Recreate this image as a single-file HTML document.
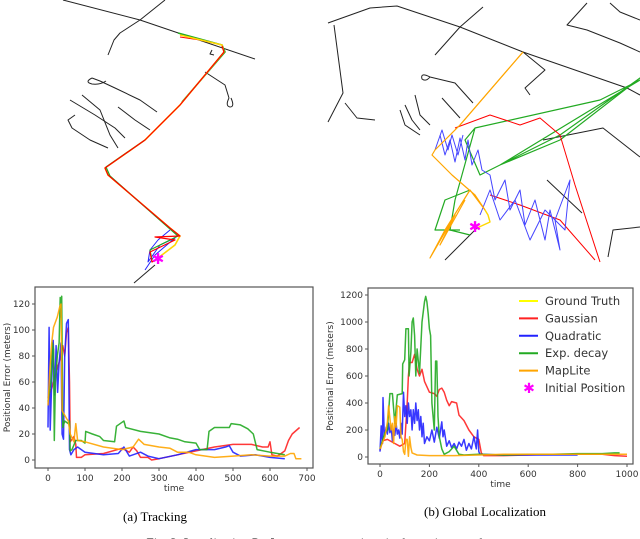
<!DOCTYPE html>
<html><head><meta charset="utf-8"><style>
html,body{margin:0;padding:0;background:#fff;width:640px;height:539px;overflow:hidden}
svg{display:block}
.tk{font-family:"DejaVu Sans","Liberation Sans",sans-serif;font-size:9px;fill:#333}
.cap{font-family:"Liberation Serif",serif;font-size:13px;fill:#000}
</style></head><body>
<svg id="fig" width="640" height="539" viewBox="0 0 640 539" xmlns="http://www.w3.org/2000/svg">
<g id="mapL" fill="none" stroke-linejoin="round">
<g stroke="#222" stroke-width="1">
<polyline points="63,0 140,20 255,59"/>
<polyline points="165,0 140,20 120,33 114,40 108,55"/>
<polyline points="92,78 100,81 115,88 140,100 157,112"/>
<path d="M92,78 q-8,4 0,6 q8,1 14,-3"/>
<polyline points="70,100 95,115 115,128 125,138"/>
<polyline points="82,95 100,110 110,135 118,148"/>
<polyline points="75,115 68,120 72,128 90,140 108,148"/>
<polyline points="118,107 135,120 150,130"/>
<polyline points="205,72 225,85 229,98"/>
<path d="M229,98 q-4,8 1,9 q5,0 1,-9"/>
<polyline points="134,283 155,265"/>
<polyline points="212,50 210,54 214,55"/>
</g>
<polyline stroke="#f00" stroke-width="1" points="180,37 200,40 222,45"/>
<polyline stroke="#2a2" stroke-width="1.6" points="178,33 222,45 225,52 182,102"/>
<polyline stroke="#ffd700" stroke-width="1.6" points="180,35 222,45 224,52 180,105 145,140 105,168 108,175 170,228 180,236 175,245 158,258"/>
<polyline stroke="#22f" stroke-width="1" points="170,230 158,240 150,250 148,262 160,245 175,238 155,255 145,270"/>
<polyline stroke="#2a2" stroke-width="1.2" points="145,140 106,167 110,176 170,229 178,236 150,250 152,260"/>
<polyline stroke="#f00" stroke-width="1.2" points="222,46 224,52 180,105 145,140 105,168 108,175 170,228 180,236 155,237 175,240 150,252 152,262 158,258"/>
</g>
<g id="mapR" fill="none" stroke-linejoin="round">
<g stroke="#222" stroke-width="1">
<polyline points="328,23 370,8 397,6 460,27 523,52 627,88 640,95"/>
<polyline points="334,25 343,93 328,122"/>
<polyline points="345,103 357,118 375,120"/>
<polyline points="483,7 460,27 435,55"/>
<polyline points="587,3 567,25 587,30 620,43 640,52"/>
<polyline points="610,3 620,12 640,20"/>
<polyline points="543,140 603,128 640,157"/>
<polyline points="547,180 582,213"/>
<polyline points="640,227 613,230 608,257"/>
<polyline points="445,260 477,228"/>
<polyline points="430,77 455,83 473,103"/>
<path d="M430,77 q-10,-5 -8,2 q4,3 8,-2"/>
<polyline points="442,98 460,118"/>
<polyline points="415,95 420,115 430,125"/>
<polyline points="405,105 412,120 420,130"/>
<polyline points="400,110 405,125 420,135"/>
<polyline points="523,52 545,70 525,88 530,95"/>
</g>
<polyline stroke="#2a2" stroke-width="1.2" points="475,128 600,100 640,80 500,165 560,140 640,78 560,135 480,175 465,140 475,128 455,200 450,230 470,235"/>
<polyline stroke="#2a2" stroke-width="1.2" points="470,190 445,200 435,230 460,230"/>
<polyline stroke="#f00" stroke-width="1" points="455,128 490,115 520,125 540,118 560,135 575,185 600,262"/>
<polyline stroke="#f00" stroke-width="1" points="490,195 520,205 560,220 595,260"/>
<polyline stroke="#44f" stroke-width="1" points="440,135 445,155 450,140 455,162 460,138 465,160 468,140 472,165 478,150 482,170 490,175 495,200 505,180 510,210 520,190 525,225 535,200 545,240 550,210 560,250 555,220 570,180 565,230 545,210 530,240 515,200 500,220 490,190 480,215"/>
<polyline stroke="#44f" stroke-width="1" points="435,150 442,130 448,150 452,135 458,155 463,135"/>
<polyline stroke="#ffa500" stroke-width="1.2" points="523,52 460,125 435,150 432,155 452,175 475,195 485,210 470,190 445,230 430,258 455,215 440,245 465,200"/>
<polyline stroke="#ffd700" stroke-width="1.4" points="485,210 488,215 490,222 477,228"/>
<polyline stroke="#ffa500" stroke-width="1" points="523,52 460,125"/>
</g>
<g id="stars" font-family="DejaVu Sans,sans-serif" font-size="15" fill="#f0f" text-anchor="middle">
<text x="158" y="264">✱</text><text x="475" y="232">✱</text>
</g>
<g id="chartL"></g>
<g id="chartR"></g>
<text class="cap" x="155" y="521" text-anchor="middle">(a) Tracking</text>
<text class="cap" x="485" y="516" text-anchor="middle">(b) Global Localization</text>
<text class="cap" x="320" y="547" text-anchor="middle">Fig. 3: Localization Performance comparison in the various modes</text>
</svg>
<script>
const seriesNames=["Gaussian","Quadratic","Exp. decay","MapLite"];
const seriesColors=["#f22","#22f","#2a2","#ffa500"];
const xTicksL=[0,100,200,300,400,500,600,700];
const yTicksL=[0,20,40,60,80,100,120];
const xTicksR=[0,200,400,600,800,1000];
const yTicksR=[0,200,400,600,800,1000,1200];
const legendLabels=["Ground Truth","Gaussian","Quadratic","Exp. decay","MapLite","Initial Position"];
const redL=[[0,48],[10,55],[20,65],[30,75],[40,88],[45,80],[50,98],[55,102],[58,60],[60,14],[70,18],[75,12],[77,2],[90,2],[100,4],[150,5],[200,9],[220,6],[230,10],[240,7],[250,2],[270,2],[280,0],[300,1],[350,4],[400,7],[450,10],[500,12],[550,12],[580,10],[595,10],[600,14],[605,4],[620,3],[640,7],[650,15],[660,20],[680,25]];
const blueL=[[0,25],[3,102],[6,23],[10,60],[14,92],[18,50],[22,88],[26,52],[30,75],[35,90],[38,20],[42,16],[45,80],[50,105],[55,108],[58,8],[62,4],[70,8],[80,10],[100,6],[150,4],[190,5],[205,10],[220,3],[250,6],[270,3],[300,1],[350,4],[400,8],[450,8],[480,10],[490,11],[500,6],[520,3],[560,4],[600,2],[640,1]];
const greenL=[[0,45],[8,60],[12,90],[15,85],[17,15],[20,60],[25,80],[30,90],[33,125],[35,110],[37,126],[40,25],[45,30],[55,28],[58,30],[60,7],[65,8],[75,15],[90,15],[100,13],[102,22],[120,20],[140,18],[150,15],[180,14],[185,26],[200,29],[205,30],[210,25],[250,22],[300,20],[330,17],[350,16],[370,14],[400,13],[410,8],[430,8],[435,22],[450,25],[490,25],[495,28],[520,27],[540,24],[555,20],[565,8],[600,6],[640,4]];
const orangeL=[[0,42],[5,70],[10,90],[15,102],[25,110],[32,118],[35,120],[38,38],[50,32],[55,30],[60,20],[70,14],[75,28],[80,15],[100,14],[150,10],[200,8],[230,10],[245,16],[260,12],[300,10],[330,9],[350,6],[380,6],[400,4],[450,2],[500,3],[550,4],[600,3],[640,3],[655,5],[665,5],[670,1],[685,1]];
const redR=[[0,50],[10,120],[30,130],[60,100],[80,80],[100,100],[110,400],[115,600],[120,700],[130,700],[140,760],[150,650],[160,600],[170,650],[180,560],[200,480],[220,470],[230,450],[240,500],[250,510],[260,480],[270,420],[280,380],[290,410],[310,400],[320,310],[340,270],[360,200],[380,150],[400,130],[410,30],[420,10],[500,10],[600,15],[700,20],[800,20],[900,20],[950,10],[1000,5]];
const blueR=[[0,40],[5,230],[10,100],[12,440],[18,150],[25,220],[30,170],[35,250],[40,180],[45,230],[50,120],[55,200],[60,160],[65,250],[70,170],[75,200],[80,140],[85,250],[90,170],[95,480],[100,300],[105,380],[110,250],[115,400],[120,300],[125,350],[130,200],[135,350],[140,250],[145,400],[150,270],[155,350],[160,200],[165,300],[170,150],[175,250],[180,100],[190,150],[200,120],[210,200],[220,110],[230,220],[240,140],[250,260],[255,150],[260,200],[270,80],[280,120],[290,70],[300,100],[310,60],[320,110],[330,80],[340,130],[350,50],[360,100],[370,60],[380,150],[390,60],[395,200],[400,40],[405,20],[500,15],[600,15],[700,15],[800,15]];
const greenR=[[0,60],[20,180],[30,200],[40,470],[50,470],[60,250],[70,460],[90,470],[92,690],[100,720],[105,950],[115,950],[118,600],[125,780],[130,1000],[135,1030],[140,900],[145,600],[150,800],[160,620],[170,1000],[180,1150],[185,1190],[190,1150],[195,1060],[200,950],[205,900],[210,400],[220,200],[225,710],[230,710],[235,300],[240,150],[250,60],[260,20],[280,40],[300,80],[320,20],[340,15],[400,20],[500,15],[600,20],[700,20],[800,25],[900,25],[950,30],[970,30]];
const orangeR=[[0,60],[20,150],[30,260],[35,380],[45,200],[50,250],[55,100],[60,300],[65,220],[70,380],[80,370],[85,150],[90,130],[95,40],[100,20],[105,130],[110,130],[115,5],[120,150],[125,70],[130,30],[150,15],[200,10],[300,10],[400,15],[500,20],[600,20],[800,20],[1000,20]];

const NS="http://www.w3.org/2000/svg";
function mk(tag,attrs,parent){const e=document.createElementNS(NS,tag);for(const k in attrs)e.setAttribute(k,attrs[k]);parent.appendChild(e);return e;}
function drawChart(g,cfg){
  const sx=v=>cfg.x0+(v-cfg.xmin)/(cfg.xmax-cfg.xmin)*(cfg.x1-cfg.x0);
  const sy=v=>cfg.y0-(v-cfg.ymin)/(cfg.ymax-cfg.ymin)*(cfg.y0-cfg.y1);
  const box=mk('rect',{x:cfg.bx0,y:cfg.by0,width:cfg.bx1-cfg.bx0,height:cfg.by1-cfg.by0,fill:'none',stroke:'#555','stroke-width':1.2},g);
  
  
  cfg.xt.forEach(t=>{
    const l=mk('line',{x1:sx(t),x2:sx(t),y1:cfg.by1,y2:cfg.by1+3,stroke:'#555'},g);
    
    
    const tx=mk('text',{x:sx(t),y:cfg.by1+13,'text-anchor':'middle',class:'tk'},g);tx.textContent=t;
    
    
  });
  cfg.yt.forEach(t=>{
    const l=mk('line',{x1:cfg.bx0-3,x2:cfg.bx0,y1:sy(t),y2:sy(t),stroke:'#555'},g);
    
    
    const tx=mk('text',{x:cfg.bx0-5,y:sy(t)+3,'text-anchor':'end',class:'tk'},g);tx.textContent=t;
    
    
  });
  const xl=mk('text',{x:(cfg.bx0+cfg.bx1)/2,y:cfg.by1+23,'text-anchor':'middle',class:'tk'},g);xl.textContent='time';
  
  
  const yc=(cfg.by0+cfg.by1)/2;
  const yl=mk('text',{x:cfg.ylx,y:yc,'text-anchor':'middle',class:'tk',transform:`rotate(-90 ${cfg.ylx} ${yc})`},g);yl.textContent='Positional Error (meters)';
  
  
  cfg.series.forEach((s,i)=>{
    const p=mk('polyline',{points:s.map(d=>sx(d[0]).toFixed(1)+','+sy(d[1]).toFixed(1)).join(' '),fill:'none',stroke:seriesColors[i],'stroke-width':1.5,'stroke-linejoin':'round',opacity:0.9},g);
    
    
  });
}
drawChart(document.getElementById('chartL'),{xmin:0,xmax:700,ymin:0,ymax:120,x0:48,x1:307,y0:460,y1:304,bx0:35,bx1:313,by0:287,by1:468,xt:xTicksL,yt:yTicksL,ylx:10,series:[redL,blueL,greenL,orangeL]});
drawChart(document.getElementById('chartR'),{xmin:0,xmax:1000,ymin:0,ymax:1200,x0:380,x1:627,y0:457,y1:295,bx0:368,bx1:633,by0:288,by1:464,xt:xTicksR,yt:yTicksR,ylx:333,series:[redR,blueR,greenR,orangeR]});
const lg=document.getElementById('chartR');
const legColors=["#ffff00","#f22","#22f","#2a2","#ffa500"];
legendLabels.forEach((lab,i)=>{
  const y=301+i*17.4;
  const g=mk('g',{},lg);
  
  
  if(i<5){mk('line',{x1:519,x2:538,y1:y,y2:y,stroke:legColors[i],'stroke-width':2},g);}
  else{const s=mk('text',{x:529,y:y+5,'text-anchor':'middle','font-size':14,fill:'#f0f','font-family':'DejaVu Sans,sans-serif'},g);s.textContent='✱';}
  const t=mk('text',{x:545,y:y+4,class:'tk'},g);t.style.fontSize='11.5px';t.textContent=lab;
});
</script>
</body></html>
